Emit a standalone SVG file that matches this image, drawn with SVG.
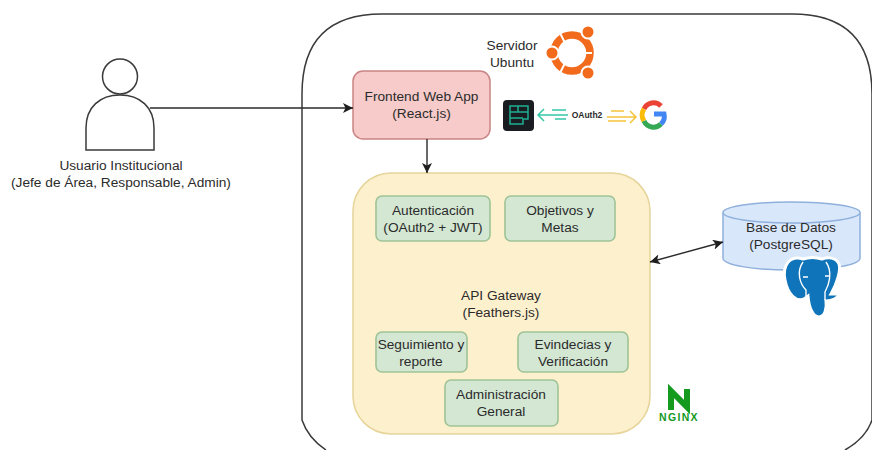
<svg xmlns="http://www.w3.org/2000/svg" width="872" height="450" viewBox="0 0 872 450">
<style>
text{font-family:"Liberation Sans",Arial,sans-serif;font-size:13.7px;fill:#2b2b2b;text-anchor:middle}
.m{fill:#d3e7d3;stroke:#9fc397;stroke-width:1.6}
.c{fill:none;stroke:#2a2a2a;stroke-width:1.4}
.dot{fill:#f26b1d;stroke:#fff;stroke-width:2}
</style>
<defs>
<marker id="a" markerWidth="12" markerHeight="12" refX="10" refY="5" orient="auto-start-reverse" markerUnits="userSpaceOnUse"><path d="M0 0L10 5L0 10L2.5 5Z" fill="#1e1e1e"/></marker>
</defs>
<rect width="872" height="450" fill="#fff"/>
<g id="server"><path d="M326 450Q308 438 302 420V94Q302 14 382 14H792Q872 14 872 94V420Q866 438 845 450" fill="none" stroke="#3a3a3a" stroke-width="1.500"/>
<text x="512" y="50">Servidor</text><text x="512" y="67">Ubuntu</text></g>
<g id="ubuntu-logo"><circle cx="572" cy="53" r="18" fill="none" stroke="#f26b1d" stroke-width="7.500"/><path d="M560 33L565 43M592 53H582M560 73L565 63" stroke="#fff" stroke-width="2"/><circle class="dot" cx="552" cy="53" r="6.500"/><circle class="dot" cx="588" cy="32" r="6.500"/><circle class="dot" cx="588" cy="73" r="6.500"/></g>
<g id="user"><circle cx="120" cy="76.500" r="17.500" fill="#fff" stroke="#3a3a3a" stroke-width="1.500"/><path d="M86 150V128C86 107 100 95 120 95C140 95 154 107 154 128V150Z" fill="#fff" stroke="#3a3a3a" stroke-width="1.500"/>
<text x="121" y="170">Usuario Institucional</text><text x="121" y="187">(Jefe de Área, Responsable, Admin)</text></g>
<g id="frontend"><rect x="353" y="71" width="137" height="68" rx="10" fill="#f6cbc9" stroke="#c98583" stroke-width="1.500"/><text x="421.500" y="101">Frontend Web App</text><text x="421.500" y="118">(React.js)</text></g>
<g id="oauth"><rect x="503" y="100" width="31" height="31" rx="4" fill="#191c20"/><path d="M510 106H528V119H523V124H510ZM510 112H528M518 106V112M510 118H523" fill="none" stroke="#1fae93" stroke-width="1.500"/>
<path d="M568 115H539M544 109L538 115L544 121" fill="none" stroke="#35c7a8" stroke-width="1.500"/><path d="M552 110H566M555 119H566" stroke="#35c7a8" stroke-width="1.500"/>
<text x="587" y="118" style="font-size:8.500px;font-weight:bold">OAuth2</text>
<path d="M607 117H636M630 111L636 117L630 123" fill="none" stroke="#f5c33b" stroke-width="1.500"/><path d="M611 111H624M608 121H626" stroke="#f5c33b" stroke-width="1.500"/></g>
<g id="google" fill="none" stroke-width="5"><path d="M661 106A10.500 10.500 0 0 0 644 109" stroke="#ea4335"/><path d="M644 109A10.500 10.500 0 0 0 644 121" stroke="#fbbc05"/><path d="M644 121A10.500 10.500 0 0 0 661 124" stroke="#34a853"/><path d="M661 124A10.500 10.500 0 0 0 664 114H654" stroke="#4285f4"/></g>
<g id="gateway"><rect x="353" y="173" width="297" height="261" rx="38" fill="#fdf0cd" stroke="#e6d49a" stroke-width="1.500"/><text x="501" y="300">API Gateway</text><text x="501" y="317">(Feathers.js)</text></g>
<g id="auth"><rect class="m" x="376" y="196" width="114" height="45" rx="6"/><text x="433" y="215">Autenticación</text><text x="433" y="232">(OAuth2 + JWT)</text></g>
<g id="objetivos"><rect class="m" x="505" y="196" width="110" height="45" rx="6"/><text x="560" y="215">Objetivos y</text><text x="560" y="232">Metas</text></g>
<g id="seguimiento"><rect class="m" x="376" y="332" width="91" height="40" rx="6"/><text x="421" y="349">Seguimiento y</text><text x="421" y="366">reporte</text></g>
<g id="evidencias"><rect class="m" x="518" y="332" width="110" height="40" rx="6"/><text x="573" y="349">Evindecias y</text><text x="573" y="366">Verificación</text></g>
<g id="admin"><rect class="m" x="445" y="380" width="113" height="46" rx="6"/><text x="501" y="399">Administración</text><text x="501" y="416">General</text></g>
<g id="db"><path d="M723 212.500V258C723 265 752 270 791.500 270C831 270 860 265 860 258V212.500" fill="#d9e7fb" stroke="#8fb0dc" stroke-width="1.500"/><ellipse cx="791.500" cy="212.500" rx="68.500" ry="10.500" fill="#d9e7fb" stroke="#8fb0dc" stroke-width="1.500"/><text x="791" y="232">Base de Datos</text><text x="791" y="249">(PostgreSQL)</text></g>
<g id="postgres-logo"><path d="M803 259C790 255 782 265 785 280C788 295 796 302 804 299L808 296C809 308 813 317 819 317C825 317 827 308 826 301C832 301 838 298 839 294L831 294C837 284 841 270 839 264C836 257 828 257 822 259C816 257 809 257 803 259Z" fill="#0f74ba" stroke="#fff" stroke-width="3"/><path d="M803 262C796 272 800 284 806 290V296M826 262C833 272 829 285 825 292V300M803 277H808M825 276H829" fill="none" stroke="#fff" stroke-width="1.400"/></g>
<g id="nginx-logo"><path d="M671 410V391L687 407V389" fill="none" stroke="#149a1f" stroke-width="6"/><text x="679" y="421" style="font-size:10.500px;font-weight:bold;fill:#149a1f;letter-spacing:1.300px">NGINX</text></g>
<g id="connectors"><path class="c" d="M150 108H353" marker-end="url(#a)"/><path class="c" d="M427 139V173" marker-end="url(#a)"/><path class="c" d="M650 262L723 242" marker-start="url(#a)" marker-end="url(#a)"/></g>
</svg>
